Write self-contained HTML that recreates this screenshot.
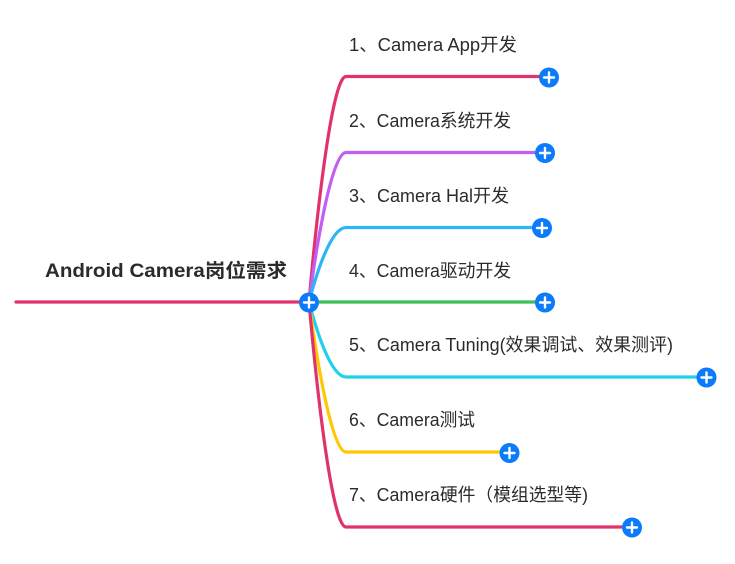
<!DOCTYPE html>
<html><head><meta charset="utf-8"><style>
html,body{margin:0;padding:0;background:#fff;width:735px;height:564px;overflow:hidden}
svg{display:block}
text{font-family:"Liberation Sans","Noto Sans CJK SC",sans-serif;fill:#2b2b2b}
</style></head><body>
<svg width="735" height="564" viewBox="0 0 735 564" xmlns="http://www.w3.org/2000/svg">
<g fill="none" stroke-width="3.2" stroke-linecap="round">
<path d="M16,302 L309,302" stroke="#e0336b"/>
<path d="M309,302 C315,234 331,76.5 346,76.5 L549,76.5" stroke="#e0336b"/>
<path d="M309,302 C315,256 331,152.5 346,152.5 L545,152.5" stroke="#c25ef2"/>
<path d="M309,302 C315,279 330,227.5 346,227.5 L542,227.5" stroke="#2ab6f7"/>
<path d="M309,302 L545,302" stroke="#3dbe5a"/>
<path d="M309,302 C315,325 330,377 346,377 L706,377" stroke="#1fd1e9"/>
<path d="M309,302 C315,347 331,452 346,452 L509,452" stroke="#ffc805"/>
<path d="M309,302 C315,370 331,527 346,527 L631,527" stroke="#e0336b"/>
</g>
<g>
<text x="45" y="277" font-size="19" font-weight="bold" fill="#111" textLength="242" lengthAdjust="spacingAndGlyphs">Android Camera岗位需求</text>
<text x="349" y="51" font-size="18" textLength="168" lengthAdjust="spacingAndGlyphs">1、Camera App开发</text>
<text x="349" y="127" font-size="18" textLength="162" lengthAdjust="spacingAndGlyphs">2、Camera系统开发</text>
<text x="349" y="202" font-size="18" textLength="160" lengthAdjust="spacingAndGlyphs">3、Camera Hal开发</text>
<text x="349" y="277" font-size="18" textLength="162" lengthAdjust="spacingAndGlyphs">4、Camera驱动开发</text>
<text x="349" y="351" font-size="18" textLength="324" lengthAdjust="spacingAndGlyphs">5、Camera Tuning(效果调试、效果测评)</text>
<text x="349" y="426" font-size="18" textLength="126" lengthAdjust="spacingAndGlyphs">6、Camera测试</text>
<text x="349" y="501" font-size="18" textLength="239" lengthAdjust="spacingAndGlyphs">7、Camera硬件（模组选型等)</text>
</g>
<defs>
<g id="plus">
<circle r="10" fill="#0b7bfb"/>
<path d="M-5,0 H5 M0,-5 V5" stroke="#fff" stroke-width="2.4" stroke-linecap="round"/>
</g>
</defs>
<use href="#plus" x="309" y="302.5"/>
<use href="#plus" x="549" y="77.5"/>
<use href="#plus" x="545" y="153"/>
<use href="#plus" x="542" y="228"/>
<use href="#plus" x="545" y="302.5"/>
<use href="#plus" x="706.5" y="377.5"/>
<use href="#plus" x="509.5" y="453"/>
<use href="#plus" x="632" y="527.5"/>
</svg>
</body></html>
